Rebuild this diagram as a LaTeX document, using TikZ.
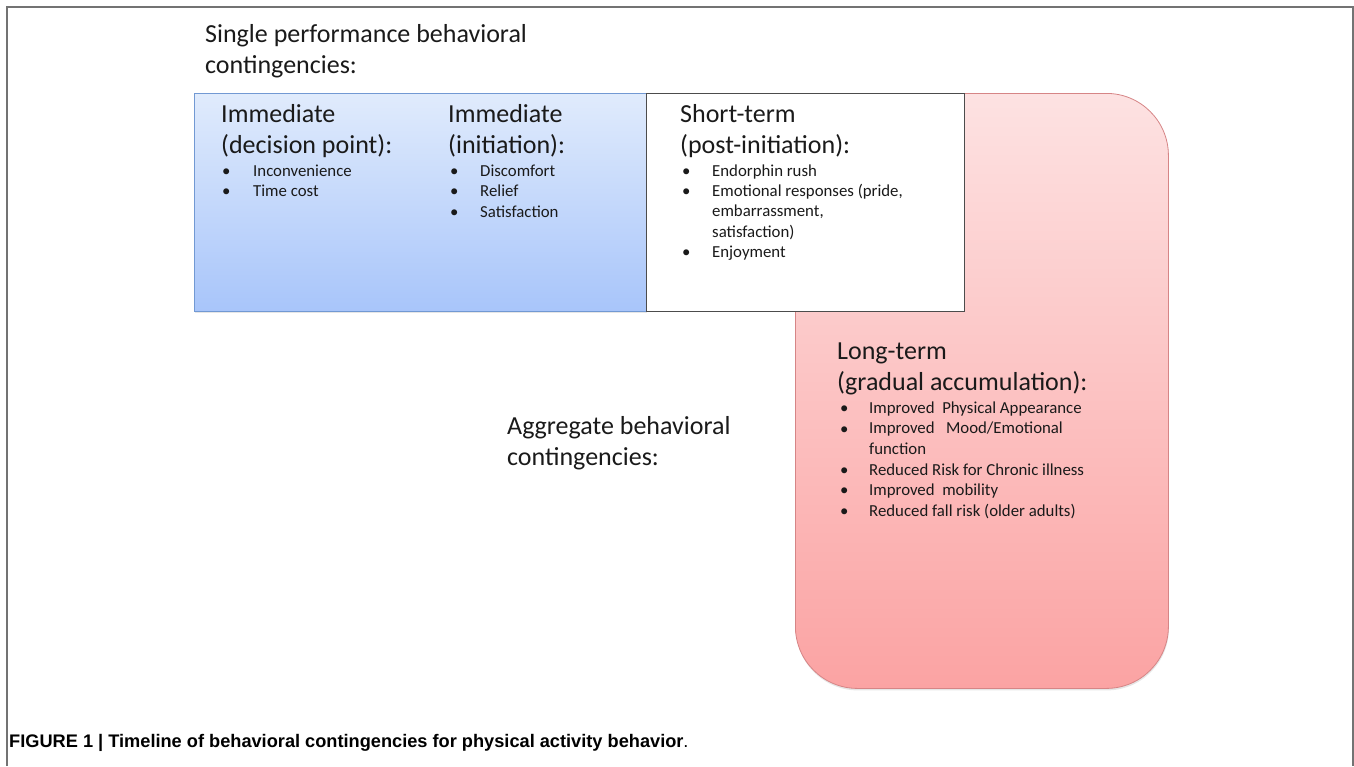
\documentclass[tikz,border=0pt]{standalone}
\usepackage{fontspec}
\setmainfont{Carlito}
\newfontfamily\captionfont{Liberation Sans}
\usetikzlibrary{positioning,shadows}

\definecolor{blueTop}{HTML}{E0EBFC}
\definecolor{blueBottom}{HTML}{A8C5FA}
\definecolor{blueLine}{HTML}{7299D3}
\definecolor{pinkTop}{HTML}{FDE2E2}
\definecolor{pinkBottom}{HTML}{FBA3A3}
\definecolor{pinkLine}{HTML}{D68586}
\definecolor{inkText}{HTML}{1A1A1A}

\tikzset{
  heading/.style={anchor=base west, inner sep=0pt, align=left, text=inkText, font=\fontsize{26}{30.5}\selectfont},
  bulletmark/.style={anchor=base west, inner sep=0pt, text=inkText, font=\fontsize{16.8}{20.3}\selectfont},
  itemtext/.style={anchor=base west, inner sep=0pt, align=left, text=inkText, font=\fontsize{16.8}{20.3}\selectfont},
  panel/.style={anchor=north west, inner sep=0pt, line width=0.8pt},
  frameline/.style={draw=black!55, line width=1.4pt},
}

\begin{document}
\begin{tikzpicture}[x=1pt,y=-1pt]
    \useasboundingbox (0,0) rectangle (1354,766);
    \draw[frameline] (7,766) -- (7,7) -- (1353,7) -- (1353,766);

    % boxes
    \node[panel, minimum width=373pt, minimum height=595pt, rounded corners=62pt, top color=pinkTop, bottom color=pinkBottom, draw=pinkLine, drop shadow={opacity=0.2, shadow xshift=0.5pt, shadow yshift=-2pt}] (longbox) at (795,93) {};
    \node[panel, minimum width=452pt, minimum height=218pt, top color=blueTop, bottom color=blueBottom, draw=blueLine, drop shadow={opacity=0.2, shadow xshift=0.5pt, shadow yshift=-2pt}] (immbox) at (194,93) {};
    \node[panel, minimum width=318pt, minimum height=218pt, fill=white, draw=black!70] (shortbox) at (646,93) {};

    % headings (base = last line)
    \node[heading] (single) at (205,73) {Single performance behavioral\\contingencies:};
    \node[heading] (aggregate) at (507,465) {Aggregate behavioral\\contingencies:};

    % immediate (decision point)
    \node[heading] (decision) at (221,153) {Immediate\\(decision point):};
    \node[bulletmark] (decA) at (222,176) {•};
    \node[itemtext] (decAt) at (253,176) {Inconvenience};
    \node[bulletmark] (decB) at (222,196) {•};
    \node[itemtext] (decBt) at (253,196) {Time cost};

    % immediate (initiation)
    \node[heading] (initiation) at (448,153) {Immediate\\(initiation):};
    \node[bulletmark] (iniA) at (450,176) {•};
    \node[itemtext] (iniAt) at (480,176) {Discomfort};
    \node[bulletmark] (iniB) at (450,196) {•};
    \node[itemtext] (iniBt) at (480,196) {Relief};
    \node[bulletmark] (iniC) at (450,217) {•};
    \node[itemtext] (iniCt) at (480,217) {Satisfaction};

    % short-term
    \node[heading] (postinit) at (680,153) {Short-term\\(post-initiation):};
    \node[bulletmark] (shoA) at (682,176) {•};
    \node[itemtext] (shoAt) at (712,176) {Endorphin rush};
    \node[bulletmark] (shoB) at (682,196) {•};
    \node[itemtext] (shoBt) at (712,237) {Emotional responses (pride,\\embarrassment,\\satisfaction)};
    \node[bulletmark] (shoC) at (682,257) {•};
    \node[itemtext] (shoCt) at (712,257) {Enjoyment};

    % long-term
    \node[heading] (gradual) at (837,390) {Long-term\\(gradual accumulation):};
    \node[bulletmark] (lonA) at (840,413) {•};
    \node[itemtext] (lonAt) at (869,413) {Improved\ \ Physical Appearance};
    \node[bulletmark] (lonB) at (840,434) {•};
    \node[itemtext] (lonBt) at (869,454) {Improved\ \ \ Mood/Emotional\\function};
    \node[bulletmark] (lonC) at (840,475) {•};
    \node[itemtext] (lonCt) at (869,475) {Reduced Risk for Chronic illness};
    \node[bulletmark] (lonD) at (840,495) {•};
    \node[itemtext] (lonDt) at (869,495) {Improved\ \ mobility};
    \node[bulletmark] (lonE) at (840,516) {•};
    \node[itemtext] (lonEt) at (869,516) {Reduced fall risk (older adults)};

    % caption
    \node[anchor=base west, inner sep=0pt, font=\captionfont\fontsize{18.2}{20}\selectfont] (caption) at (9,747) {\textbf{FIGURE 1 | Timeline of behavioral contingencies for physical activity behavior}.};
\end{tikzpicture}
\end{document}
